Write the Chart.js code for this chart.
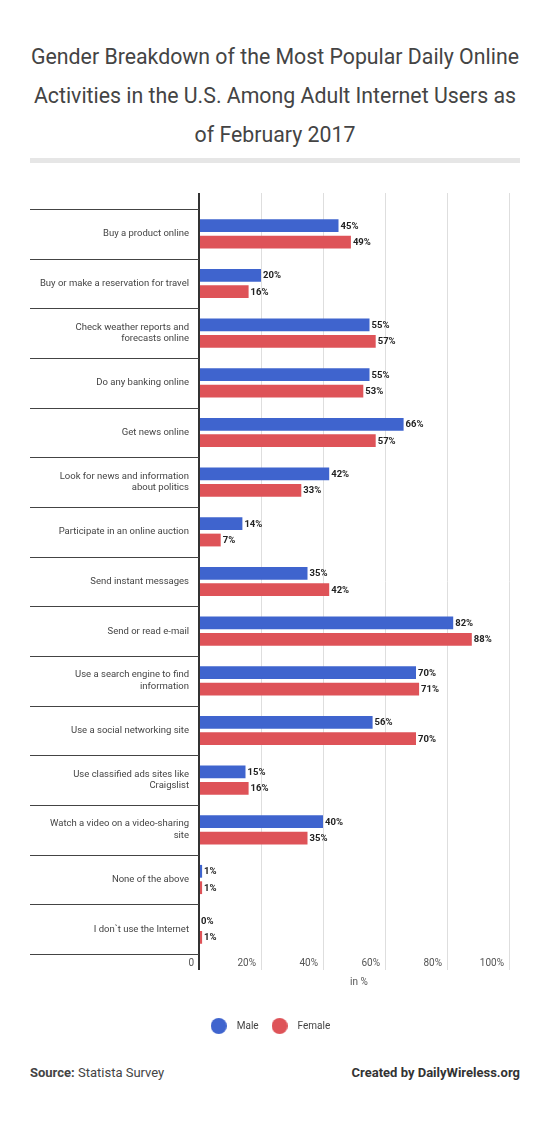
<!DOCTYPE html>
<html>
<head>
<meta charset="utf-8">
<script src="https://cdn.jsdelivr.net/npm/chart.js@4.4.1/dist/chart.umd.min.js"></script>
<style>
  html, body { margin: 0; padding: 0; background: #fff; }
  body { width: 550px; height: 1141px; position: relative; overflow: hidden; font-family: Roboto, "Noto Sans", sans-serif; }
  #title { position: absolute; left: 20px; top: 36.5px; width: 510px; text-align: center; font-size: 21.3px; line-height: 39px; color: #444; white-space: nowrap; }
  #rule { position: absolute; left: 30px; top: 158px; width: 490px; height: 5px; background: #e6e6e6; }
  #wrap { position: absolute; left: 0; top: 174px; width: 550px; height: 880px; }
  #src { position: absolute; left: 30px; top: 1065px; font-size: 13px; line-height: 16px; color: #444; }
  #made { position: absolute; right: 30px; top: 1065px; font-size: 13px; line-height: 16px; color: #333; font-weight: bold; }
</style>
</head>
<body>
<div id="title">Gender Breakdown of the Most Popular Daily Online<br>Activities in the U.S. Among Adult Internet Users as<br>of February 2017</div>
<div id="rule"></div>
<div id="wrap"><canvas id="c" width="550" height="880"></canvas></div>
<div id="src"><b>Source:</b> Statista Survey</div>
<div id="made">Created by DailyWireless.org</div>
<script>
const categories = [
  "Buy a product online",
  "Buy or make a reservation for travel",
  ["Check weather reports and", "forecasts online"],
  "Do any banking online",
  "Get news online",
  ["Look for news and information", "about politics"],
  "Participate in an online auction",
  "Send instant messages",
  "Send or read e-mail",
  ["Use a search engine to find", "information"],
  "Use a social networking site",
  ["Use classified ads sites like", "Craigslist"],
  ["Watch a video on a video-sharing", "site"],
  "None of the above",
  "I don`t use the Internet"
];
const maleValues   = [45, 20, 55, 55, 66, 42, 14, 35, 82, 70, 56, 15, 40, 1, 0];
const femaleValues = [49, 16, 57, 53, 57, 33, 7, 42, 88, 71, 70, 16, 35, 1, 1];
const xTickValues = [0, 20, 40, 60, 80, 100];
const seriesNames = ["Male", "Female"];
const seriesColors = ["#3f64ce", "#de5358"];

function dot(color) {
  const c = document.createElement('canvas');
  c.width = 16; c.height = 16;
  const g = c.getContext('2d');
  g.fillStyle = color;
  g.beginPath(); g.arc(8, 8, 8, 0, Math.PI * 2); g.fill();
  return c;
}
const dots = seriesColors.map(dot);

const extraLines = {
  id: 'extraLines',
  afterDraw(chart) {
    const ctx = chart.ctx;
    const area = chart.chartArea;
    const xs = chart.scales.x, ys = chart.scales.y;
    ctx.save();
    xTickValues.forEach(v => {
      const px = Math.round(xs.getPixelForValue(v));
      if (v === 0) { ctx.strokeStyle = '#333'; ctx.lineWidth = 2; }
      else { ctx.strokeStyle = '#dedede'; ctx.lineWidth = 1; }
      const x = v === 0 ? px : px + 0.5;
      ctx.beginPath();
      ctx.moveTo(x, area.top - 16); ctx.lineTo(x, area.top);
      ctx.moveTo(x, area.bottom); ctx.lineTo(x, area.bottom + 16);
      ctx.stroke();
    });
    ctx.strokeStyle = '#444'; ctx.lineWidth = 1;
    const n = categories.length;
    const step = ys.getPixelForValue(1) - ys.getPixelForValue(0);
    for (let i = 0; i <= n; i++) {
      let y = (i < n) ? ys.getPixelForValue(i) - step / 2 : ys.getPixelForValue(n - 1) + step / 2;
      y = Math.round(y) + 0.5;
      ctx.beginPath(); ctx.moveTo(30, y); ctx.lineTo(area.left, y); ctx.stroke();
    }
    ctx.font = 'bold 9.5px Roboto';
    ctx.fillStyle = '#222';
    ctx.textAlign = 'left';
    ctx.textBaseline = 'middle';
    chart.data.datasets.forEach((ds, di) => {
      const meta = chart.getDatasetMeta(di);
      meta.data.forEach((bar, i) => {
        ctx.fillText(ds.data[i] + '%', bar.x + 2, bar.y + 0.5);
      });
    });
    ctx.restore();
  }
};

new Chart(document.getElementById('c'), {
  type: 'bar',
  data: {
    labels: categories,
    datasets: [
      { label: seriesNames[0], data: maleValues, backgroundColor: seriesColors[0], barPercentage: 0.78, categoryPercentage: 0.66 },
      { label: seriesNames[1], data: femaleValues, backgroundColor: seriesColors[1], barPercentage: 0.78, categoryPercentage: 0.66 }
    ]
  },
  options: {
    indexAxis: 'y',
    responsive: false,
    animation: false,
    devicePixelRatio: 1,
    layout: { padding: { top: 35, bottom: 13, left: 27, right: 41 } },
    plugins: {
      tooltip: { enabled: false },
      legend: {
        position: 'bottom',
        labels: {
          font: { family: 'Roboto', size: 10 },
          color: '#444',
          usePointStyle: true,
          pointStyleWidth: 26,
          padding: 8,
          generateLabels: (chart) => chart.data.datasets.map((ds, i) => ({
            text: ds.label, fillStyle: seriesColors[i], strokeStyle: seriesColors[i],
            lineWidth: 0, pointStyle: dots[i], datasetIndex: i, hidden: false, fontColor: '#444'
          }))
        }
      }
    },
    scales: {
      x: {
        min: 0, max: 100,
        afterBuildTicks: (s) => { s.ticks = xTickValues.map(v => ({ value: v })); },
        ticks: {
          align: 'end',
          padding: 3,
          font: { family: 'Roboto', size: 10 },
          color: '#555',
          callback: (v) => (v === 0 ? '0' : v + '%') + '  '
        },
        grid: {
          drawTicks: false,
          color: (c) => c.tick && c.tick.value === 0 ? '#333' : '#dedede',
          lineWidth: (c) => c.tick && c.tick.value === 0 ? 2 : 1
        },
        border: { display: false },
        title: {
          display: true, text: '    in %',
          font: { family: 'Roboto', size: 10 }, color: '#555',
          padding: { top: 4, bottom: 25 }
        }
      },
      y: {
        afterFit: (s) => { s.width = 172; },
        ticks: {
          padding: 10,
          font: { family: 'Roboto', size: 9.5, lineHeight: 1.25 },
          color: '#444'
        },
        grid: { display: false, drawTicks: false },
        border: { display: false }
      }
    }
  },
  plugins: [extraLines]
});
</script>
</body>
</html>
